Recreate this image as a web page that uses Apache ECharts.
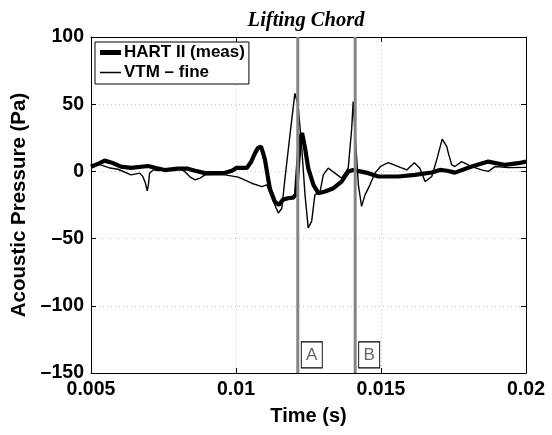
<!DOCTYPE html>
<html>
<head>
<meta charset="utf-8">
<script src="https://cdn.jsdelivr.net/npm/echarts@6/dist/echarts.min.js"></script>
<style>html,body{margin:0;padding:0;background:#fff}#c{width:552px;height:435px}</style>
</head>
<body>
<div id="c"></div>
<script>
// ---- data (time in s, pressure in Pa) ----
var hartTime = [0.00500,0.00528,0.00547,0.00572,0.00603,0.00638,0.00697,0.00724,0.00754,0.00800,0.00834,0.00859,0.00893,0.00928,0.00962,0.00986,0.01002,0.01037,0.01052,0.01066,0.01076,0.01086,0.01093,0.01100,0.01109,0.01117,0.01134,0.01148,0.01162,0.01179,0.01197,0.01207,0.01214,0.01221,0.01228,0.01238,0.01249,0.01267,0.01284,0.01307,0.01336,0.01364,0.01387,0.01404,0.01428,0.01456,0.01491,0.01560,0.01617,0.01675,0.01703,0.01728,0.01755,0.01813,0.01870,0.01928,0.01973,0.02000];
var hartValues = [3.5,6,8,6.5,3.5,2.6,4,2.5,1,2,2,0.5,-1.3,-1.2,-1,0.5,2.6,2.6,7,13.8,17.5,18.5,14,8.5,-3,-13,-22.5,-25,-21,-20,-19.5,-17,5,25,28.5,17.5,2.4,-10,-16.2,-15,-12.5,-7.6,-0.1,1,0,-1.3,-3.8,-3.8,-2.6,-0.8,1.1,0.5,-0.9,3.6,7.3,4.8,6.1,7.3];
var vtmTime = [0.00500,0.00531,0.00566,0.00593,0.00638,0.00668,0.00679,0.00688,0.00694,0.00698,0.00702,0.00714,0.00731,0.00766,0.00800,0.00823,0.00841,0.00859,0.00876,0.00893,0.00962,0.01008,0.01054,0.01089,0.01106,0.01123,0.01138,0.01146,0.01158,0.01169,0.01186,0.01203,0.01214,0.01226,0.01238,0.01249,0.01261,0.01272,0.01290,0.01301,0.01318,0.01341,0.01364,0.01387,0.01399,0.01404,0.01414,0.01422,0.01433,0.01445,0.01462,0.01479,0.01500,0.01525,0.01560,0.01589,0.01615,0.01634,0.01652,0.01675,0.01692,0.01711,0.01727,0.01732,0.01744,0.01755,0.01778,0.01813,0.01847,0.01870,0.01893,0.01939,0.02000];
var vtmValues = [3.6,5,2.5,1.6,-2.6,-1.3,-3.9,-9,-14.5,-10,-1.3,1.1,0.6,1.6,2.6,0,-4,-6.3,-5,-2.6,-2.6,-4.3,-8.8,-11.3,-10,-19,-27,-31,-27.4,-5,27,58,49.5,19.7,-17.5,-42,-37,-17.5,-15,-2.6,2.4,-1.3,-5,2.4,32,52,17,-10,-26,-17.5,-10,-1.3,4,6.5,3.6,1.1,6.5,2.4,-7.6,-3.8,8.6,24,18.5,13.8,4.8,3.6,7.3,3.6,1.1,0,3.6,2.8,3];
var seriesNames = ['HART II (meas)', 'VTM \u2013 fine'];
var markerTimes = [0.01213, 0.01411];
var markerLabels = ['A', 'B'];
var markerLabelValue = -136.5;
var xTickLabels = ['0.005', '0.01', '0.015', '0.02'];
var yTickLabels = ['\u2013150', '\u2013100', '\u201350', '0', '50', '100'];
var xMin = 0.005, xMax = 0.02, xStep = 0.005;
var yMin = -150, yMax = 100, yStep = 50;

function zip(a, b) { return a.map(function (v, i) { return [v, b[i]]; }); }

var font = '"Liberation Sans", Arial, Helvetica, sans-serif';
function xAx(pos, show) {
  return {
    type: 'value', position: pos, min: xMin, max: xMax, interval: xStep,
    axisLine: { show: true, onZero: false, lineStyle: { color: '#000', width: 1 } },
    axisTick: { show: true, inside: true, length: 5, lineStyle: { color: '#000' } },
    axisLabel: show ? {
      show: true, color: '#000', fontFamily: font, fontWeight: 'bold', fontSize: 19.5, margin: 7,
      formatter: function (v) { return xTickLabels[Math.round((v - xMin) / xStep)]; }
    } : { show: false },
    splitLine: show ? { show: true, lineStyle: { color: '#c8c8c8', type: [1, 3], width: 1 } } : { show: false },
    name: show ? 'Time (s)' : '', nameLocation: 'middle', nameGap: 33,
    nameTextStyle: { color: '#000', fontFamily: font, fontWeight: 'bold', fontSize: 20 }
  };
}
function yAx(pos, show) {
  return {
    type: 'value', position: pos, min: yMin, max: yMax, interval: yStep,
    axisLine: { show: true, onZero: false, lineStyle: { color: '#000', width: 1 } },
    axisTick: { show: true, inside: true, length: 5, lineStyle: { color: '#000' } },
    axisLabel: show ? {
      show: true, color: '#000', fontFamily: font, fontWeight: 'bold', fontSize: 19.5, margin: 7,
      formatter: function (v) { return yTickLabels[Math.round((v - yMin) / yStep)]; }
    } : { show: false },
    splitLine: show ? { show: true, lineStyle: { color: '#c8c8c8', type: [1, 3], width: 1 } } : { show: false },
    name: show ? 'Acoustic Pressure (Pa)' : '', nameLocation: 'middle', nameGap: 44, nameRotate: 90,
    nameTextStyle: { color: '#000', fontFamily: font, fontWeight: 'bold', fontSize: 20.5 }
  };
}

var markerSeries = markerTimes.map(function (t, i) {
  return {
    name: 'marker' + markerLabels[i], type: 'line', data: [[t, yMin], [t, yMax]],
    showSymbol: false, symbol: 'none', silent: true, z: 5,
    lineStyle: { color: '#858585', width: 3 },
    emphasis: { disabled: true },
    markPoint: {
      silent: true, symbol: 'rect', symbolSize: [21, 26], symbolOffset: [14, 0],
      itemStyle: { color: '#fff', borderColor: '#000', borderWidth: 1 },
      label: { show: true, position: 'inside', color: '#666', fontFamily: font, fontSize: 17, formatter: function (p) { return p.name; } },
      data: [{ name: markerLabels[i], coord: [t, markerLabelValue] }]
    }
  };
});

var chart = echarts.init(document.getElementById('c'), null, { renderer: 'canvas' });
chart.setOption({
  animation: false,
  backgroundColor: '#fff',
  title: {
    text: 'Lifting Chord', left: 301, top: 6, textAlign: 'center',
    textStyle: { fontFamily: '"Liberation Serif", "Times New Roman", serif', fontStyle: 'italic', fontWeight: 'bold', fontSize: 20.5, color: '#000' }
  },
  grid: { left: 91, right: 26, top: 37, bottom: 62 },
  legend: {
    orient: 'vertical', left: 95, top: 42,
    backgroundColor: '#fff', borderColor: '#000', borderWidth: 1, borderRadius: 0,
    padding: [2, 4, 3, 5], itemGap: 3, itemWidth: 21, itemHeight: 18,
    textStyle: { fontFamily: font, fontWeight: 'bold', fontSize: 17, color: '#000', padding: [0, 0, 0, -2] },
    data: [
      { name: seriesNames[0], icon: 'path://M0,8 L21,8 L21,13 L0,13 Z', itemStyle: { color: '#000' } },
      { name: seriesNames[1], icon: 'path://M0,10 L21,10 L21,11.5 L0,11.5 Z', itemStyle: { color: '#000' } }
    ]
  },
  xAxis: [xAx('bottom', true), xAx('top', false)],
  yAxis: [yAx('left', true), yAx('right', false)],
  series: [
    {
      name: seriesNames[1], type: 'line', data: zip(vtmTime, vtmValues), showSymbol: false, symbol: 'none',
      lineStyle: { color: '#000', width: 1.4 }, z: 3
    },
    {
      name: seriesNames[0], type: 'line', data: zip(hartTime, hartValues), showSymbol: false, symbol: 'none',
      lineStyle: { color: '#000', width: 4.2 }, z: 2
    }
  ].concat(markerSeries)
});
</script>
</body>
</html>
